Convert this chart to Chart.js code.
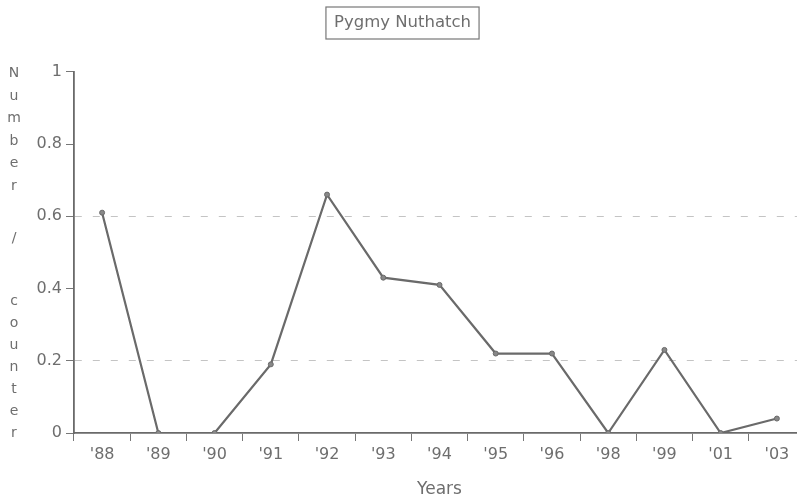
<!DOCTYPE html>
<html>
<head>
<meta charset="utf-8">
<script src="https://cdn.jsdelivr.net/npm/chart.js@4.4.1/dist/chart.umd.min.js"></script>
<style>
  html, body { margin: 0; padding: 0; background: #fff; overflow: hidden; }
  #wrap { width: 812px; height: 503px; position: relative; }
</style>
</head>
<body>
<div id="wrap"><canvas id="line"></canvas></div>
<script>
// data
var years = ["'88", "'89", "'90", "'91", "'92", "'93", "'94", "'95", "'96", "'98", "'99", "'01", "'03"];
var counts = [0.61, 0, 0, 0.19, 0.66, 0.43, 0.41, 0.22, 0.22, 0, 0.23, 0, 0.04];
var yTicks = [0, 0.2, 0.4, 0.6, 0.8, 1];
var chartTitle = "Pygmy Nuthatch";
var yTitleTop = "Number";
var yTitleBottom = "counter";

var inkText = "#6e6e6e";
var inkLine = "#6a6a6a";
var fontName = "'DejaVu Sans', sans-serif";

// box round the title, like the original
var titleBox = {
  id: "titleBox",
  afterDraw: function (chart) {
    var tb = chart.titleBlock;
    var ctx = chart.ctx;
    ctx.save();
    ctx.font = "16.5px " + fontName;
    var w = ctx.measureText(chartTitle).width;
    var cx = tb.left + tb.width / 2;
    var cy = tb.top + 13 + 10;
    ctx.strokeStyle = "#777";
    ctx.lineWidth = 1.2;
    ctx.strokeRect(cx - w / 2 - 8, cy - 16, w + 16, 32);
    ctx.restore();
  }
};

// stacked letters for the y axis title
var stackedTitle = {
  id: "stackedTitle",
  afterDraw: function (chart) {
    var ctx = chart.ctx;
    var area = chart.chartArea;
    var y = chart.scales.y;
    ctx.save();
    ctx.font = "14px " + fontName;
    ctx.fillStyle = inkText;
    ctx.textAlign = "center";
    ctx.textBaseline = "middle";
    for (var i = 0; i < yTitleTop.length; i++) {
      ctx.fillText(yTitleTop[i], 14, area.top + 2 + i * 22.5);
    }
    ctx.fillText("/", 14, y.getPixelForValue(0.54));
    for (var j = 0; j < yTitleBottom.length; j++) {
      ctx.fillText(yTitleBottom[j], 14, area.bottom - (yTitleBottom.length - 1 - j) * 22);
    }
    ctx.restore();
  }
};

new Chart("line", {
  type: "line",
  data: {
    labels: years,
    datasets: [
      {
        label: chartTitle,
        data: counts,
        fill: false,
        borderColor: inkLine,
        borderWidth: 2.2,
        tension: 0,
        pointRadius: 2.5,
        pointBackgroundColor: "#888",
        pointBorderColor: inkLine,
        pointBorderWidth: 1
      }
    ]
  },
  options: {
    responsive: true,
    maintainAspectRatio: false,
    animation: false,
    layout: { padding: { left: 0, right: 7, top: 0, bottom: 0 } },
    plugins: {
      legend: { display: false },
      tooltip: { enabled: false },
      title: {
        display: true,
        text: chartTitle,
        color: inkText,
        font: { family: fontName, size: 16.5, weight: "normal" },
        padding: { top: 13, bottom: 39 }
      }
    },
    scales: {
      x: {
        type: "category",
        offset: true,
        afterFit: function (scale) { scale.height = 70; },
        border: { color: inkLine, width: 1.8 },
        grid: {
          offset: true,
          drawOnChartArea: false,
          tickLength: 8,
          tickColor: "#777",
          tickWidth: 1
        },
        ticks: {
          color: inkText,
          padding: 4,
          maxRotation: 0,
          font: { family: fontName, size: 16 }
        },
        title: {
          display: true,
          text: "Years",
          color: inkText,
          font: { family: fontName, size: 17 },
          padding: { top: 0, bottom: 3 }
        }
      },
      y: {
        min: 0,
        max: 1,
        afterFit: function (scale) { scale.width = 74; },
        afterBuildTicks: function (scale) {
          scale.ticks = yTicks.map(function (v) { return { value: v }; });
        },
        border: { color: inkLine, width: 1.8, dash: [7, 11] },
        grid: {
          drawOnChartArea: true,
          tickLength: 8,
          tickColor: "#777",
          tickWidth: 1,
          tickBorderDash: [],
          lineWidth: 1,
          color: function (c) {
            if (!c.tick) return "rgba(0,0,0,0)";
            var v = Math.round(c.tick.value * 10) / 10;
            return (v === 0.2 || v === 0.6) ? "#c4c4c4" : "rgba(0,0,0,0)";
          }
        },
        ticks: {
          color: inkText,
          padding: 4,
          font: { family: fontName, size: 16 },
          callback: function (value) { return String(value); }
        }
      }
    }
  },
  plugins: [titleBox, stackedTitle]
});
</script>
</body>
</html>
